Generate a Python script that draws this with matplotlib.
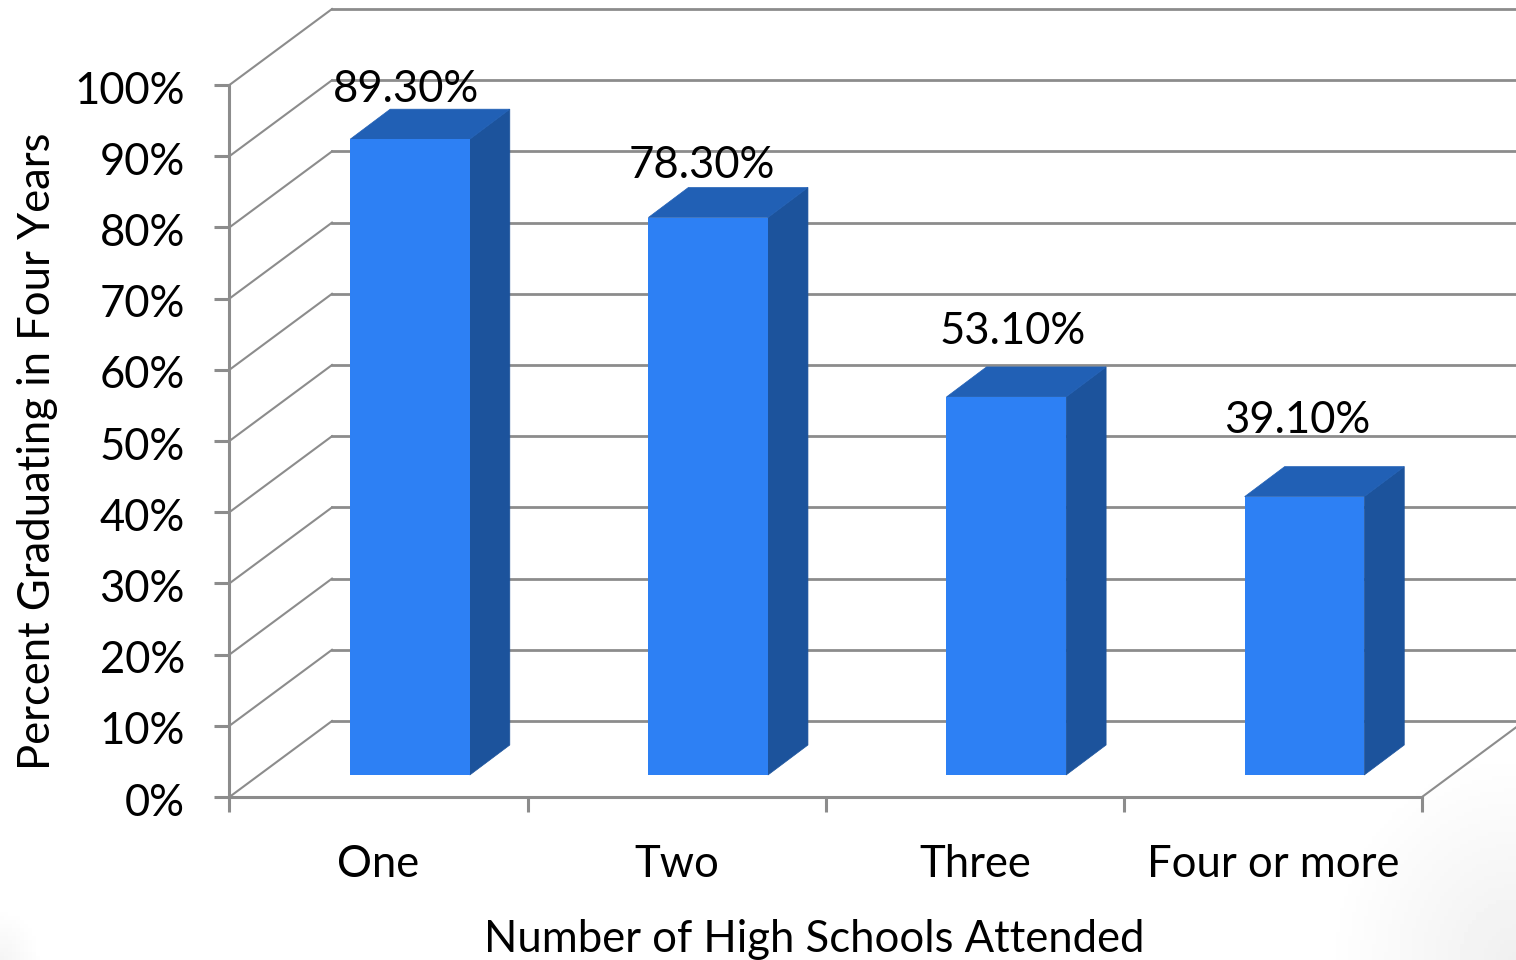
import numpy as np
import matplotlib
matplotlib.use("Agg")
import matplotlib.pyplot as plt
from matplotlib.patches import Polygon
from matplotlib.transforms import ScaledTranslation

# Chart data
categories = ["One", "Two", "Three", "Four or more"]
graduation_pct = [89.3, 78.3, 53.1, 39.1]
value_labels = ["89.30%", "78.30%", "53.10%", "39.10%"]
y_ticks = [0, 10, 20, 30, 40, 50, 60, 70, 80, 90, 100]

# Figure geometry in pixels
W, H = 1516, 960
AX_L, AX_R, AX_T, AX_B = 229.4, 1422, 85, 797
PX_X = (AX_R - AX_L) / len(categories)
PX_Y = (AX_B - AX_T) / 100

GREY = "#8c8c8c"
FRONT, TOP, SIDE = "#2d80f4", "#2160b5", "#1c539c"

plt.rcParams["font.family"] = ["Lato", "DejaVu Sans"]
FS = 31.4

fig = plt.figure(figsize=(W / 100, H / 100), dpi=100, facecolor="white")

# Soft grey shading in the lower corners of the slide
bg = fig.add_axes([0, 0, 1, 1], zorder=0)
bg.axis("off")
yy, xx = np.mgrid[0:H:240j, 0:W:380j]
right = np.clip(1 - np.hypot((W - xx) / 190, (H - yy) / 210), 0, 1)
left = np.clip(1 - np.hypot(xx / 40, (H - yy) / 50), 0, 1)
shade = 1 - np.maximum(0.06 * right, 0.04 * left)
bg.imshow(shade, cmap="gray", vmin=0, vmax=1, extent=[0, W, H, 0], aspect="auto")

ax = fig.add_axes([AX_L / W, 1 - AX_B / H, (AX_R - AX_L) / W, (AX_B - AX_T) / H], zorder=1)
ax.patch.set_alpha(0)
ax.set_xlim(0, len(categories))
ax.set_ylim(0, 100)


def dx(px):
    return px / PX_X


def dy(px):
    return px / PX_Y


# Back wall and side wall
wall_dx, wall_dy = dx(102.6), dy(76)
for t in y_ticks:
    ax.plot([0, wall_dx], [t, t + wall_dy], color=GREY, lw=1.5, clip_on=False, zorder=1)
    ax.plot([wall_dx, len(categories) + wall_dx], [t + wall_dy, t + wall_dy],
            color=GREY, lw=2.0, clip_on=False, zorder=1)
ax.plot([len(categories), len(categories) + wall_dx], [0, wall_dy],
        color=GREY, lw=1.5, clip_on=False, zorder=1)

# Oblique columns
bar_left, bar_w = dx(120.8), dx(119.6)
bar_base = dy(22)
depth_x, depth_y = dx(40), dy(30)
for i, v in enumerate(graduation_pct):
    x0 = i + bar_left
    x1 = x0 + bar_w
    y0 = bar_base
    y1 = bar_base + v
    ax.add_patch(Polygon([(x1, y0), (x1 + depth_x, y0 + depth_y), (x1 + depth_x, y1 + depth_y), (x1, y1)],
                         fc=SIDE, ec=SIDE, lw=0.5, clip_on=False, zorder=3))
    ax.add_patch(Polygon([(x0, y1), (x1, y1), (x1 + depth_x, y1 + depth_y), (x0 + depth_x, y1 + depth_y)],
                         fc=TOP, ec=TOP, lw=0.5, clip_on=False, zorder=3))
    ax.bar(x0, v, width=bar_w, bottom=y0, align="edge", color=FRONT, zorder=4, clip_on=False)

# Value labels sit just above each column
label_shift = [(-4, 50), (-6, 52), (6, 65), (-7, 76)]
for i, (v, text) in enumerate(zip(graduation_pct, value_labels)):
    sx, sy = label_shift[i]
    ax.annotate(text, (i + bar_left + bar_w / 2, bar_base + v),
                xytext=(sx * 0.72, sy * 0.72), textcoords="offset points",
                ha="center", va="center", fontsize=FS, color="black", zorder=6,
                annotation_clip=False)

# Axes
for side in ("top", "right"):
    ax.spines[side].set_visible(False)
for side in ("left", "bottom"):
    ax.spines[side].set_color(GREY)
    ax.spines[side].set_linewidth(2.2)
    ax.spines[side].set_zorder(2)

ax.set_yticks(y_ticks)
ax.set_yticklabels([f"{t}%" for t in y_ticks], fontsize=FS)
ax.tick_params(axis="y", length=11, width=2.2, color=GREY, pad=21)
nudge = ScaledTranslation(0, -1.5 / 72, fig.dpi_scale_trans)
for lab in ax.get_yticklabels():
    lab.set_transform(lab.get_transform() + nudge)

ax.set_xticks(range(len(categories) + 1))
ax.set_xticklabels([])
ax.set_xticks(np.arange(len(categories)) + 0.5, labels=categories, minor=True, fontsize=FS)
ax.tick_params(axis="x", which="major", length=10.5, width=2.2, color=GREY)
ax.tick_params(axis="x", which="minor", length=0, pad=33.5)

fig.text(814 / W, 1 - 939.5 / H, "Number of High Schools Attended", ha="center", va="center", fontsize=FS)
fig.text(38 / W, 1 - 451 / H, "Percent Graduating in Four Years", rotation=90,
         ha="center", va="center", fontsize=FS)

fig.savefig("out.png", dpi=100)
